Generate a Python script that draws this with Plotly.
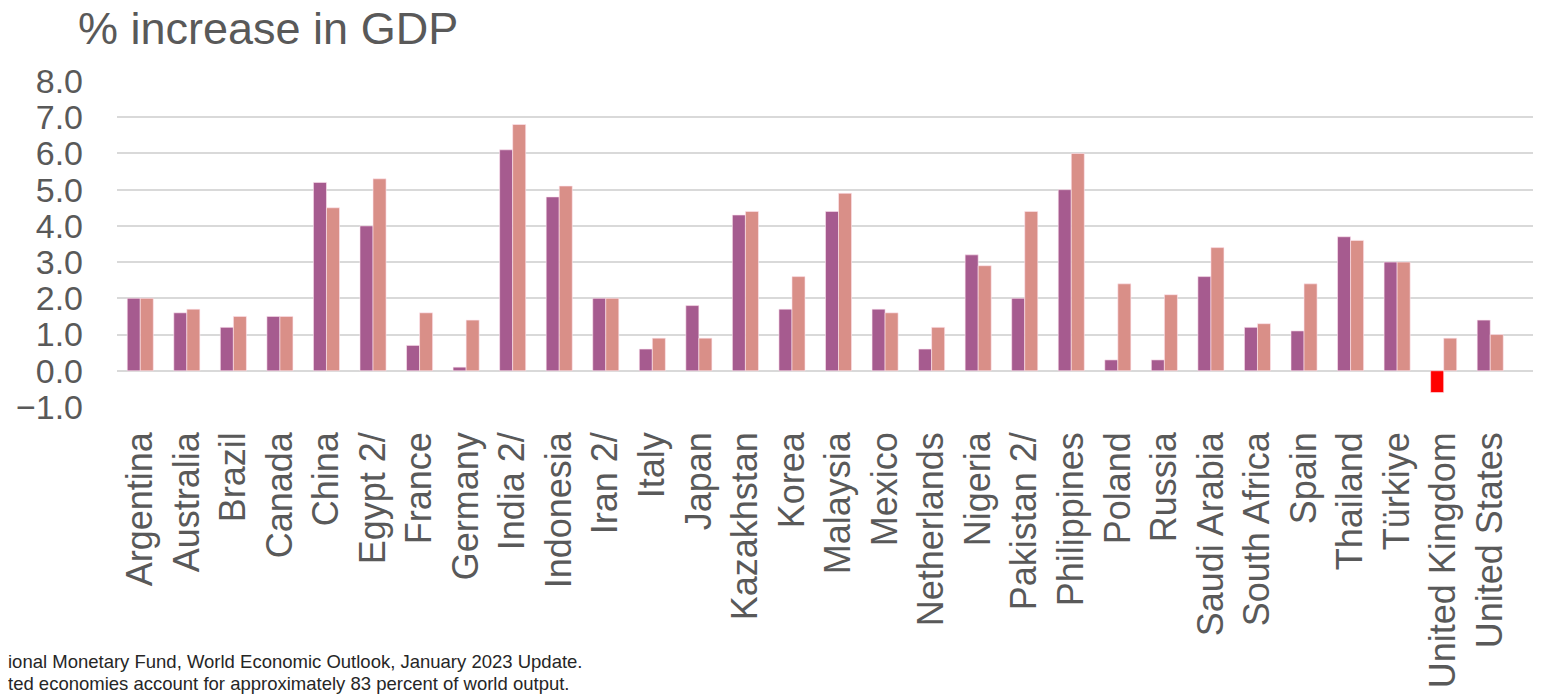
import plotly.graph_objects as go

countries = ["Argentina", "Australia", "Brazil", "Canada", "China", "Egypt 2/", "France",
             "Germany", "India 2/", "Indonesia", "Iran 2/", "Italy", "Japan", "Kazakhstan",
             "Korea", "Malaysia", "Mexico", "Netherlands", "Nigeria", "Pakistan 2/",
             "Philippines", "Poland", "Russia", "Saudi Arabia", "South Africa", "Spain",
             "Thailand", "Türkiye", "United Kingdom", "United States"]

series_2023 = [2.0, 1.6, 1.2, 1.5, 5.2, 4.0, 0.7, 0.1, 6.1, 4.8, 2.0, 0.6, 1.8, 4.3,
               1.7, 4.4, 1.7, 0.6, 3.2, 2.0, 5.0, 0.3, 0.3, 2.6, 1.2, 1.1, 3.7, 3.0, -0.6, 1.4]
series_2024 = [2.0, 1.7, 1.5, 1.5, 4.5, 5.3, 1.6, 1.4, 6.8, 5.1, 2.0, 0.9, 0.9, 4.4,
               2.6, 4.9, 1.6, 1.2, 2.9, 4.4, 6.0, 2.4, 2.1, 3.4, 1.3, 2.4, 3.6, 3.0, 0.9, 1.0]

y_ticks = [-1, 0, 1, 2, 3, 4, 5, 6, 7, 8]

PURPLE = "#A65B8F"
SALMON = "#D98F88"
NEG = "#FF0000"

colors_2023 = [NEG if v < 0 else PURPLE for v in series_2023]

# the page body adds an 8px offset; the figure is sized to fit the window
OFF = 8
W, H = 1541 - OFF, 695 - OFF
L, R, T = 117 - OFF, 0, 81 - OFF
B = H - (407 - OFF)
STEP = 46.55  # pixel width of one category

fig = go.Figure()
fig.add_trace(go.Bar(x=countries, y=series_2023, name="2023",
                     marker=dict(color=colors_2023, line=dict(color="rgba(255,230,240,0.6)", width=1))))
fig.add_trace(go.Bar(x=countries, y=series_2024, name="2024",
                     marker=dict(color=SALMON, line=dict(color="rgba(255,230,240,0.6)", width=1))))

pw = W - L - R
fig.update_layout(
    width=W, height=H,
    margin=dict(l=L, r=R, t=T, b=B, pad=0, autoexpand=False),
    paper_bgcolor="white", plot_bgcolor="white",
    barmode="group", bargap=0.44, bargroupgap=0,
    showlegend=False,
    font=dict(family="Liberation Sans, Arial, sans-serif", color="#595959"),
    xaxis=dict(
        type="category", range=[-0.5, -0.5 + pw / STEP], automargin=False,
        tickangle=-90, tickfont=dict(size=36, color="#595959"),
        showgrid=False, showline=False, ticks="", ticklabelstandoff=17,
    ),
    yaxis=dict(
        range=[-1, 8], tickvals=y_ticks, tickformat=".1f", automargin=False,
        tickfont=dict(size=34, color="#595959"),
        showgrid=True, gridcolor="#D9D9D9", gridwidth=2,
        zeroline=True, zerolinecolor="#D9D9D9", zerolinewidth=2,
        showline=False, ticks="", ticklabelstandoff=33,
    ),
)

def px_x(p):
    return (p - OFF - L) / pw

def px_y(p):
    return (H - B - (p - OFF)) / (H - T - B)

fig.add_annotation(text="% increase in GDP", xref="paper", yref="paper",
                   x=px_x(76), y=px_y(56), xanchor="left", yanchor="bottom",
                   showarrow=False, font=dict(size=45, color="#595959"))
fig.add_annotation(text="ional Monetary Fund, World Economic Outlook, January 2023 Update.",
                   xref="paper", yref="paper", x=px_x(6), y=px_y(674), xanchor="left", yanchor="bottom",
                   showarrow=False, font=dict(size=18.5, color="#262626"))
fig.add_annotation(text="ted economies account for approximately 83 percent of world output.",
                   xref="paper", yref="paper", x=px_x(6), y=px_y(696), xanchor="left", yanchor="bottom",
                   showarrow=False, font=dict(size=18.5, color="#262626"))

fig.write_html("out.html")
